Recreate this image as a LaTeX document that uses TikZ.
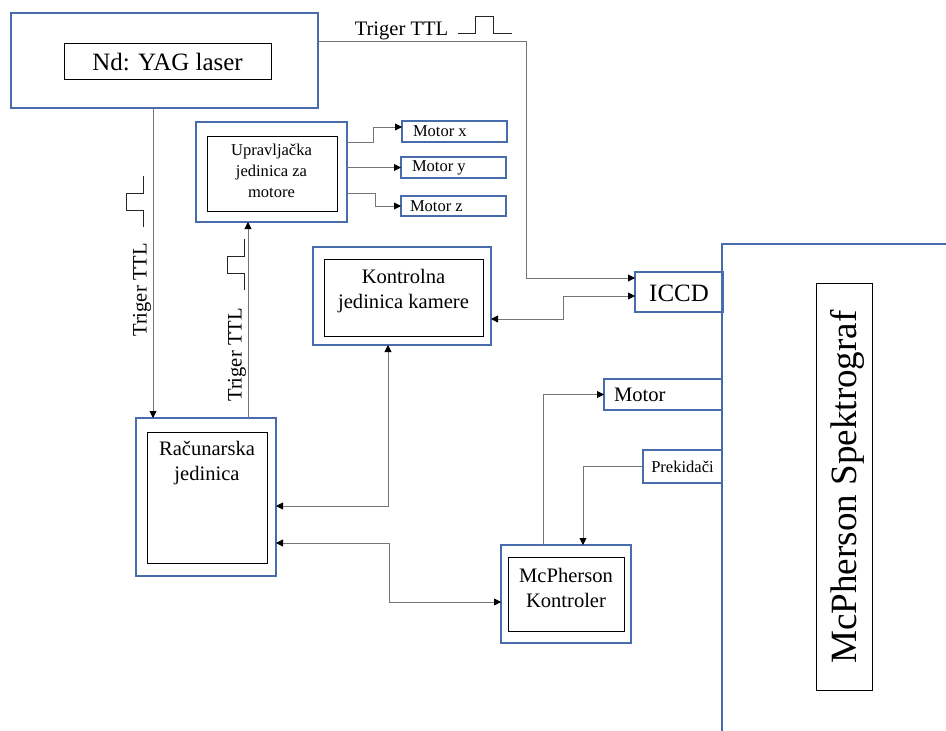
\documentclass[tikz,border=0pt]{standalone}
\usepackage{fontspec}
\setmainfont{Liberation Serif}
\usetikzlibrary{arrows.meta}
\usetikzlibrary{fit}
\definecolor{frameblue}{RGB}{72,108,172}
\definecolor{wiregrey}{RGB}{118,118,118}
\newcommand*{\smallfont}{\fontsize{9.4}{11.9}\selectfont}
\newcommand*{\midfont}{\fontsize{11.7}{14.4}\selectfont}
\newcommand*{\bigfont}{\fontsize{14.2}{17}\selectfont}
\newcommand*{\hugefont}{\fontsize{21.1}{25}\selectfont}
\tikzstyle{outer}=[draw=frameblue, line width=0.65pt, inner sep=0pt, outer sep=0pt]
\tikzstyle{inner}=[draw=black, line width=0.5pt, inner sep=0pt, outer sep=0pt]
\tikzstyle{txt}=[inner sep=0pt, outer sep=0pt, align=center]
\tikzstyle{wire}=[draw=wiregrey, line width=0.5pt, -{Triangle[length=1.4mm,width=1.4mm,color=black]}]
\tikzstyle{wires}=[wire, {Triangle[length=1.4mm,width=1.4mm,color=black]}-{Triangle[length=1.4mm,width=1.4mm,color=black]}]
\tikzstyle{pulse}=[draw=black!85, line width=0.45pt]

\begin{document}
\begin{tikzpicture}[x=0.2mm, y=-0.2mm]
    \useasboundingbox (0,0) rectangle (946,731);
    % laser
    \node [outer, fit={(11,13) (318,108)}] (laser) {};
    \node [inner, fit={(64,43) (271,79)}] (laserin) {};
    \node [txt, font=\bigfont] (lasertxt) at (167.5,62) {Nd: YAG laser};
    % motor control
    \node [outer, fit={(196,122) (347,222)}] (uprav) {};
    \node [inner, fit={(207,136) (337,211)}] (upravin) {};
    \node [txt, font=\smallfont] (upravtxt) at (271.5,170.5) {Upravljačka\\jedinica za\\motore};
    \node [outer, fit={(402,121) (507,142)}] (motx) {};
    \node [outer, fit={(401,157) (506,178)}] (moty) {};
    \node [outer, fit={(401,196) (506,216)}] (motz) {};
    \node [txt, font=\smallfont, anchor=west] at (413,131.5) {Motor x};
    \node [txt, font=\smallfont, anchor=west] at (412,167.5) {Motor y};
    \node [txt, font=\smallfont, anchor=west] at (410,206) {Motor z};
    % camera
    \node [outer, fit={(313,247) (491,345)}] (kamout) {};
    \node [inner, fit={(324,259) (483,336)}] (kamin) {};
    \node [txt, font=\midfont] (kamtxt) at (403.5,291) {Kontrolna\\jedinica kamere};
    \node [outer, fit={(635,272) (723,312)}] (iccd) {};
    \node [txt, font=\bigfont] (iccdtxt) at (679,293) {ICCD};
    % computer
    \node [outer, fit={(136,418) (276,576)}] (racun) {};
    \node [inner, fit={(147,432) (267,563)}] (racunin) {};
    \node [txt, font=\midfont] (racuntxt) at (207,463) {Računarska\\jedinica};
    % spectrograph
    \node [outer, fit={(501,545) (631,643)}] (mcp) {};
    \node [inner, fit={(508,557) (624,631)}] (mcpin) {};
    \node [txt, font=\midfont] (mcptxt) at (566,588) {McPherson\\Kontroler};
    \node [outer, fit={(604,379) (722,410)}] (motor) {};
    \node [txt, font=\midfont, anchor=west] at (614,394.5) {Motor};
    \node [outer, fit={(643,450) (722,483)}] (prek) {};
    \node [txt, font=\smallfont] (prektxt) at (682.5,466.5) {Prekidači};
    \draw [frameblue, line width=0.65pt] (946,244) -- (722,244) -- (722,731);
    \node [inner, fit={(816,283) (872,690)}] (spekin) {};
    \node [txt, font=\hugefont, rotate=90] (spektxt) at (847,487) {McPherson Spektrograf};
    % trigger labels
    \node [txt, font=\midfont, anchor=base] (trigtop) at (401.5,35) {Triger TTL};
    \node [txt, font=\midfont, rotate=90] (trigleft) at (142,290) {Triger TTL};
    \node [txt, font=\midfont, rotate=90] (trigright) at (237,355) {Triger TTL};
    \draw [pulse] (458,33) -- (475,33) -- (475,16) -- (493,16) -- (493,33) -- (512,33);
    \foreach \x/\y in {143/176, 244/239}
        \draw [pulse] (\x,\y) -- ++(0,17) -- ++(-17,0) -- ++(0,17) -- ++(17,0) -- ++(0,17);
    % connections
    \draw [wire] (laser.east |- 0,41) -| (526,278) -- (iccd.west |- 0,278);
    \draw [wire] (153,0 |- laser.south) -- (153,0 |- racun.north);
    \draw [wire] (248,0 |- racun.north) -- (248,0 |- uprav.south);
    \draw [wire] (uprav.east |- 0,142) -| (373,127) -- (motx.west |- 0,127);
    \draw [wire] (uprav.east |- moty.west) -- (moty.west);
    \draw [wire] (uprav.east |- 0,193) -| (375,206) -- (motz.west);
    \draw [wires] (iccd.west |- 0,296) -| (563,319) -- (kamout.east |- 0,319);
    \draw [wires] (388,0 |- kamout.south) |- (racun.east |- 0,506);
    \draw [wires] (racun.east |- 0,543) -| (389,602) -- (mcp.west |- 0,602);
    \draw [wire] (543,0 |- mcp.north) |- (motor.west);
    \draw [wire] (prek.west) -| (583,0 |- mcp.north);
\end{tikzpicture}
\end{document}
